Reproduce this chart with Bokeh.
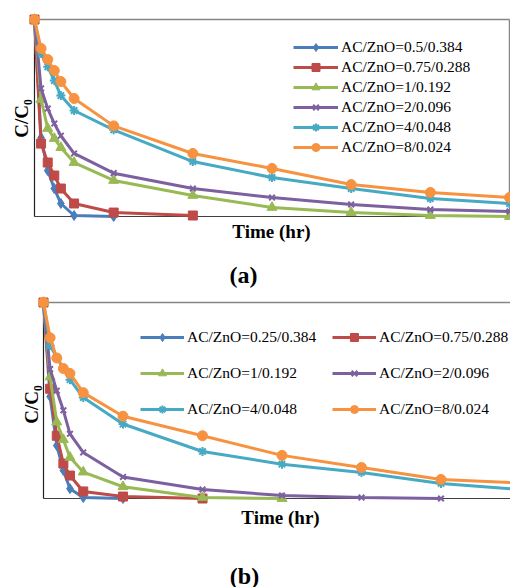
import math
from bokeh.plotting import figure
from bokeh.models import Legend, LegendItem, Label, Range1d
from bokeh.layouts import column
from bokeh.embed import file_html
from bokeh.resources import INLINE

# ---------------- data ----------------
times = [0, 0.083, 0.167, 0.25, 0.333, 0.5, 1, 2, 3, 4, 5, 6]

labels_a = ["AC/ZnO=0.5/0.384", "AC/ZnO=0.75/0.288", "AC/ZnO=1/0.192",
            "AC/ZnO=2/0.096", "AC/ZnO=4/0.048", "AC/ZnO=8/0.024"]
a_05 = [1.0, 0.40, 0.233, 0.142, 0.066, 0.005, 0.0]
a_075 = [1.0, 0.37, 0.274, 0.208, 0.142, 0.066, 0.02, 0.005]
a_1 = [1.0, 0.594, 0.447, 0.396, 0.35, 0.274, 0.183, 0.107, 0.046, 0.02, 0.005, 0.0]
a_2 = [1.0, 0.65, 0.548, 0.472, 0.41, 0.32, 0.22, 0.142, 0.096, 0.061, 0.035, 0.025]
a_4 = [1.0, 0.827, 0.76, 0.69, 0.614, 0.538, 0.44, 0.279, 0.198, 0.142, 0.091, 0.066]
a_8 = [1.0, 0.853, 0.797, 0.741, 0.685, 0.599, 0.46, 0.32, 0.244, 0.162, 0.122, 0.096]

labels_b = ["AC/ZnO=0.25/0.384", "AC/ZnO=0.75/0.288", "AC/ZnO=1/0.192",
            "AC/ZnO=2/0.096", "AC/ZnO=4/0.048", "AC/ZnO=8/0.024"]
b_025 = [1.0, 0.52, 0.27, 0.143, 0.05, 0.005, 0.0]
b_075 = [1.0, 0.56, 0.32, 0.178, 0.117, 0.036, 0.01, 0.0]
b_1 = [1.0, 0.62, 0.39, 0.30, 0.21, 0.135, 0.06, 0.005, 0.0]
b_2 = [1.0, 0.66, 0.55, 0.45, 0.33, 0.235, 0.11, 0.046, 0.015, 0.005, 0.0]
b_4 = [1.0, 0.78, 0.72, 0.665, 0.606, 0.515, 0.38, 0.24, 0.175, 0.133, 0.077, 0.045]
b_8 = [1.0, 0.82, 0.717, 0.663, 0.638, 0.54, 0.42, 0.32, 0.22, 0.158, 0.097, 0.08]

x_label = "Time (hr)"
y_label = "C/C\u2080"

# ---------------- styles ----------------
colors = ["#4A7EBB", "#BE4B48", "#98B954", "#7D60A0", "#46AAC5", "#F69240"]
markers = ["diamond", "square", "triangle", "x", "asterisk", "circle"]
msizes = [10, 9, 10, 8, 9, 10]
SERIF = "'Liberation Serif', 'Times New Roman', serif"


def make_panel(series, names, ax_left, ppu, ax_top, ax_bot, width, height,
               legend_cols, row_spacing, title_txt, title_pos, xlab_pos, ylab_pos, show_right):
    """All positions in canvas pixels (frame == whole canvas)."""
    ypu = (ax_bot - ax_top)
    xs = (0 - ax_left) / ppu
    xe = (width - ax_left) / ppu
    ye = ax_bot / ypu
    ys = (ax_bot - height) / ypu
    p = figure(width=width, height=height, output_backend="svg", toolbar_location=None,
               x_range=Range1d(xs, xe), y_range=Range1d(ys, ye),
               x_axis_type=None, y_axis_type=None,
               min_border_left=0, min_border_right=0, min_border_top=0, min_border_bottom=0)
    p.grid.visible = False
    p.outline_line_color = None
    p.background_fill_color = "white"
    p.border_fill_color = "white"

    # plot-area box
    p.line([0, 6], [1, 1], line_color="#868686", line_width=1.5)
    if show_right:
        p.line([6, 6], [0, 1], line_color="#868686", line_width=1.5)
    p.line([0, 6], [0, 0], line_color="#404040", line_width=1.2)
    p.line([0, 0], [0, 1], line_color="#202020", line_width=1.2)

    items = []
    for i, ys_ in enumerate(series):
        xs_ = times[:len(ys_)]
        r1 = p.line(xs_, ys_, line_color=colors[i], line_width=3)
        kw = dict(marker=markers[i], size=msizes[i], fill_color=colors[i], line_color=colors[i])
        if markers[i] in ("x", "asterisk"):
            kw["line_width"] = 2
        r2 = p.scatter(xs_, ys_, **kw)
        items.append(LegendItem(label=names[i], renderers=[r1, r2]))

    for (idxs, loc, gw) in legend_cols:
        lg = Legend(items=[items[k] for k in idxs], location=loc,
                    glyph_width=gw, glyph_height=20, label_height=20,
                    label_standoff=3, spacing=row_spacing,
                    padding=0, margin=0, border_line_color=None,
                    background_fill_alpha=0,
                    label_text_font=SERIF, label_text_font_size="15.5px",
                    label_text_color="black")
        p.add_layout(lg, "center")

    def dx(px):
        return (px - ax_left) / ppu

    def dy(py):
        return (ax_bot - py) / ypu

    p.add_layout(Label(x=dx(xlab_pos[0]), y=dy(xlab_pos[1]), text=x_label,
                       text_font=SERIF, text_font_size="19px", text_font_style="bold",
                       text_align="center", text_baseline="middle", text_color="black"))
    p.add_layout(Label(x=dx(ylab_pos[0]), y=dy(ylab_pos[1]), text=y_label, angle=math.pi / 2,
                       text_font=SERIF, text_font_size="19px", text_font_style="bold",
                       text_align="center", text_baseline="middle", text_color="black"))
    p.add_layout(Label(x=dx(title_pos[0]), y=dy(title_pos[1]), text=title_txt,
                       text_font=SERIF, text_font_size="24px", text_font_style="bold",
                       text_align="center", text_baseline="middle", text_color="black"))
    return p


# Panel (a): canvas coordinates == picture coordinates
pa = make_panel([a_05, a_075, a_1, a_2, a_4, a_8], labels_a,
                ax_left=34, ppu=475 / 6, ax_top=19, ax_bot=216, width=510, height=292,
                legend_cols=[([0, 1, 2, 3, 4, 5], (293, 135), 45)], row_spacing=0,
                title_txt="(a)", title_pos=(243, 274), xlab_pos=(271, 231),
                ylab_pos=(21, 118), show_right=True)

# Panel (b): canvas y = picture y - 292
pb = make_panel([b_025, b_075, b_1, b_2, b_4, b_8], labels_b,
                ax_left=43, ppu=79.5, ax_top=10, ax_bot=206, width=510, height=295,
                legend_cols=[([0, 2, 4], (140, 168), 44), ([1, 3, 5], (332, 168), 44)],
                row_spacing=16,
                title_txt="(b)", title_pos=(244, 283), xlab_pos=(280, 225),
                ylab_pos=(31, 112), show_right=False)

layout = column(pa, pb, spacing=0)
open("out.html", "w").write(file_html(layout, INLINE))
